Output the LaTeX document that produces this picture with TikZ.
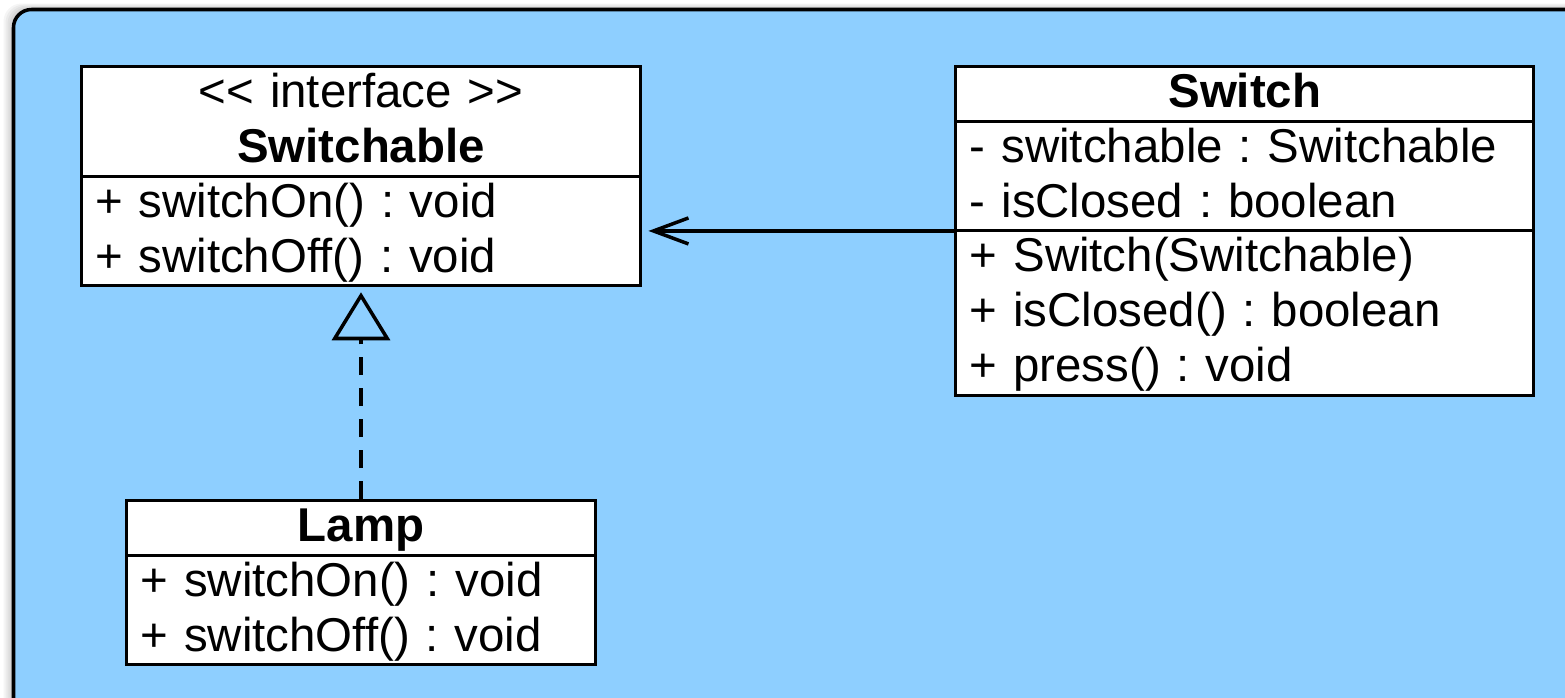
\documentclass[tikz,border=0pt]{standalone}
\usepackage{fontspec}
\setmainfont{Liberation Sans}[Ligatures=TeXOff]
\usetikzlibrary{positioning,shapes.multipart,arrows.meta}
\definecolor{panelblue}{RGB}{142,207,255}
\newcommand{\rowstrut}{\rule[-7.8pt]{0pt}{31.3pt}}

\begin{document}
\begin{tikzpicture}[x=0.02cm, y=-0.02cm,
umlclass/.style={rectangle split, rectangle split parts=#1, draw=black, fill=white, line width=1.7pt, inner xsep=0.28cm, inner ysep=-0.95pt, font=\fontsize{27}{31.3}\selectfont\frenchspacing},
panel/.style={draw=black, fill=panelblue, line width=2pt, rounded corners=0.36cm},
assoc/.style={line width=2pt, -{Straight Barb[length=0.7cm, width=0.52cm]}, shorten >=0.12cm},
realize/.style={line width=2pt, dash pattern=on 0.36cm off 0.26cm, -{Triangle[open, length=0.96cm, width=1.16cm]}, shorten >=0.1cm}
]
\useasboundingbox (0,0) rectangle (1565,697);

% background panel with its shadow
\begin{scope}
\clip (0,0) rectangle (1565,697);
\fill[white] (0,0) rectangle (1565,697);
\foreach \d in {2,4,6,8,10}
  \fill[black, opacity=0.04, rounded corners=0.36cm] (13.5-\d,9.5-0.6*\d) rectangle (1620,750);
\draw[panel] (13.5,9.5) rectangle (1620,750);
\end{scope}

\node[umlclass=2, text width=10.64cm, anchor=north](switchable) at (361,65)
  {\centering\rowstrut<< interface >>\\\rowstrut\textbf{Switchable}\par
   \nodepart{two}\rowstrut+ switchOn() : void\\\rowstrut+ switchOff() : void};

\node[umlclass=3, text width=11cm](switch)[right=6.24cm of switchable.north east, anchor=north west]
  {\centering\rowstrut\textbf{Switch}\par
   \nodepart{two}\rowstrut- switchable : Switchable\\\rowstrut- isClosed : boolean
   \nodepart{three}\rowstrut+ Switch(Switchable)\\\rowstrut+ isClosed() : boolean\\\rowstrut+ press() : void};

\node[umlclass=2, text width=8.82cm](lamp)[below=4.24cm of switchable]
  {\centering\rowstrut\textbf{Lamp}\par
   \nodepart{two}\rowstrut+ switchOn() : void\\\rowstrut+ switchOff() : void};

\draw[assoc] (switch.west) -- (switch.west -| switchable.east);
\draw[realize] (lamp.north) -- (switchable.south);
\end{tikzpicture}
\end{document}
